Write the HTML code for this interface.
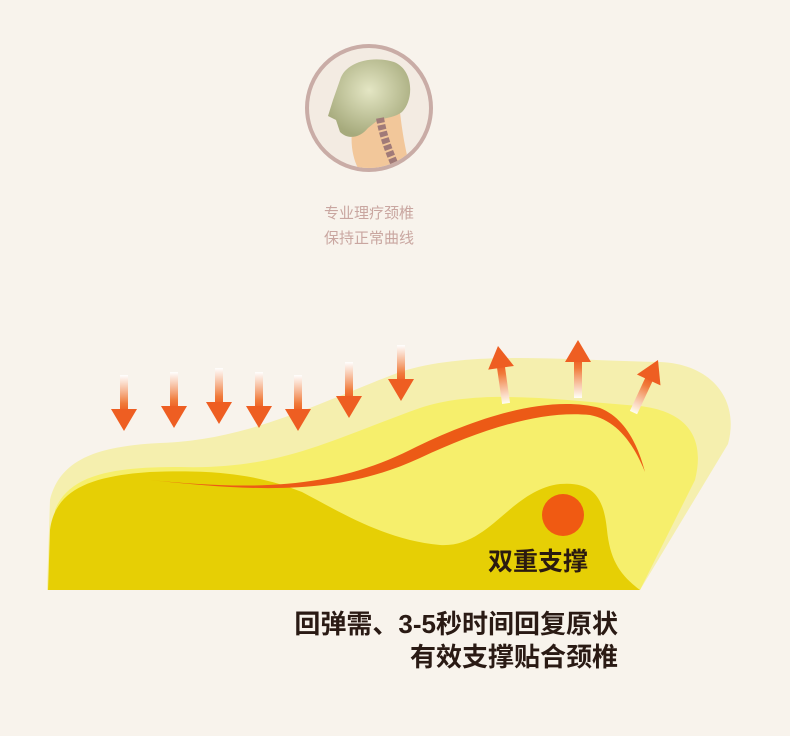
<!DOCTYPE html>
<html><head><meta charset="utf-8"><style>
html,body{margin:0;padding:0;background:#f8f3ec;}
body{width:790px;height:736px;position:relative;overflow:hidden;font-family:"Liberation Sans","Noto Sans CJK SC",sans-serif;}
.t{position:absolute;font-weight:bold;}
</style></head><body>
<svg width="790" height="736" style="position:absolute;left:0;top:0">
<defs>
<linearGradient id="gd" x1="0" y1="0" x2="0" y2="1"><stop offset="0" stop-color="#fff" stop-opacity="0.9"/><stop offset="0.75" stop-color="#f07a3a"/><stop offset="1" stop-color="#ee5a1e"/></linearGradient>
<linearGradient id="gu" x1="0" y1="1" x2="0" y2="0"><stop offset="0" stop-color="#fff" stop-opacity="0.9"/><stop offset="0.75" stop-color="#f07a3a"/><stop offset="1" stop-color="#ee5a1e"/></linearGradient>
<g id="ad"><rect x="-4" y="0" width="8" height="38" fill="url(#gd)"/><polygon points="-13,34 13,34 0,56" fill="#ee5e22"/></g>
<g id="au"><rect x="-4" y="18" width="8" height="40" fill="url(#gu)"/><polygon points="-13,22 13,22 0,0" fill="#ee5e22"/></g>
<radialGradient id="sk" cx="0.5" cy="0.4" r="0.6"><stop offset="0" stop-color="#e4e6c4"/><stop offset="1" stop-color="#a6aa7c"/></radialGradient>
<clipPath id="cc"><circle cx="369" cy="108" r="60"/></clipPath>
</defs>
<!-- head icon -->
<circle cx="369" cy="108" r="62" fill="#f3ebe2" stroke="#c9aca6" stroke-width="4"/>
<g clip-path="url(#cc)">
<path d="M352,130 C350,150 355,165 362,175 L412,175 C405,150 402,130 400,112 Z" fill="#f2c79a"/>
<path d="M340,80 C345,62 372,55 394,62 C414,70 414,100 402,112 C394,118 384,118 378,120 L368,128 C360,138 348,140 340,132 L336,120 L328,116 L333,100 Z" fill="url(#sk)"/>
<path d="M380,118 C383,135 388,150 398,172" stroke="#a07a78" stroke-width="8" fill="none" stroke-dasharray="5 2"/>
</g>
<!-- pillow -->
<path d="M47,590 L50,500 C60,458 100,446 160,443 C250,440 320,402 400,372 C470,350 560,360 660,362 C712,364 740,400 728,444 L640,590 Z" fill="#f5efae"/>
<path d="M52,590 L55,510 C70,472 120,467 180,467 C280,470 330,440 420,408 C480,388 560,400 640,406 C690,412 705,440 695,480 L640,590 Z" fill="#f6ef6c"/>
<path d="M48,590 L50,530 C55,490 90,476 150,472 C220,469 262,476 302,492 C340,512 385,540 440,545 C490,548 510,490 560,484 C595,481 604,500 607,530 C610,560 620,575 640,590 Z" fill="#e6cf05"/>
<path d="M150,480 C250,490 330,490 410,450 C480,415 550,395 600,408 C625,418 638,445 645,472 C632,440 615,420 590,415 C540,410 480,430 420,458 C340,495 260,492 150,480 Z" fill="#ec5a16"/>
<circle cx="563" cy="515" r="21" fill="#f05a12"/>
<!-- arrows -->
<use href="#ad" x="124" y="375"/>
<use href="#ad" x="174" y="372"/>
<use href="#ad" x="219" y="368"/>
<use href="#ad" x="259" y="372"/>
<use href="#ad" x="298" y="375"/>
<use href="#ad" x="349" y="362"/>
<use href="#ad" x="401" y="345"/>
<use href="#au" transform="translate(498,346) rotate(-8)"/>
<use href="#au" x="578" y="340"/>
<use href="#au" transform="translate(658,360) rotate(25)"/>
</svg>
<div class="t" style="left:324px;top:201px;font-size:15px;color:#c9a6a0;font-weight:normal;line-height:25px;">专业理疗颈椎<br>保持正常曲线</div>
<div class="t" style="left:488px;top:542px;font-size:25px;color:#2a1a10;">双重支撑</div>
<div class="t" style="left:200px;top:608px;width:418px;text-align:right;font-size:26px;line-height:33px;color:#2a1a14;">回弹需、3-5秒时间回复原状<br>有效支撑贴合颈椎</div>
</body></html>
